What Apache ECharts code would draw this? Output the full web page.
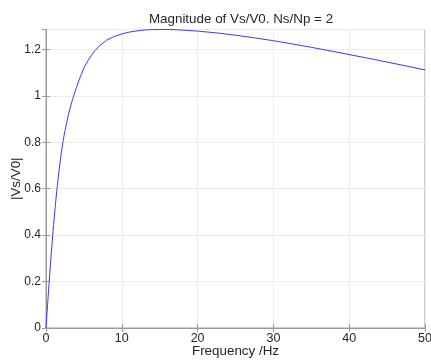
<!DOCTYPE html>
<html>
<head>
<meta charset="utf-8">
<script src="https://cdn.jsdelivr.net/npm/echarts@6/dist/echarts.min.js"></script>
<style>
html,body{margin:0;padding:0;background:#fff;}
#c{width:431px;height:363px;}
</style>
</head>
<body>
<div id="c"></div>
<script>
var titleText = 'Magnitude of Vs/V0. Ns/Np = 2';
var xName = 'Frequency /Hz';
var yName = '|Vs/V0|';
var freq = [0, 0.25, 0.5, 0.75, 1.0, 1.25, 1.5, 1.75, 2.0, 2.25, 2.5, 3.0, 3.5, 4.0, 4.5, 5.0, 5.5, 6.0, 6.5, 7.0, 8, 9, 10, 11, 12, 13, 14, 15, 16, 17, 18, 20, 22.5, 25, 27.5, 30, 32.5, 35, 37.5, 40, 42.5, 45, 47.5, 50];
var mag  = [0, 0.12, 0.235, 0.345, 0.445, 0.535, 0.615, 0.685, 0.75, 0.805, 0.85, 0.925, 0.985, 1.035, 1.08, 1.12, 1.15, 1.175, 1.196, 1.214, 1.24, 1.256, 1.267, 1.275, 1.28, 1.284, 1.2855, 1.286, 1.286, 1.285, 1.2835, 1.279, 1.2714, 1.2615, 1.2501, 1.2378, 1.2238, 1.2093, 1.194, 1.178, 1.1622, 1.1457, 1.129, 1.112];
var xTicks = [0, 10, 20, 30, 40, 50];
var yTicks = [0, 0.2, 0.4, 0.6, 0.8, 1, 1.2];

var pts = freq.map(function (f, i) { return [f, mag[i]]; });
var font = 'Liberation Sans, Arial, sans-serif';
var axisCol = '#999999';
var txtCol = '#262626';

function yFmt(v) {
  for (var i = 0; i < yTicks.length; i++) if (Math.abs(v - yTicks[i]) < 1e-6) return String(yTicks[i]);
  return '';
}
function xFmt(v) {
  for (var i = 0; i < xTicks.length; i++) if (Math.abs(v - xTicks[i]) < 1e-6) return String(xTicks[i]);
  return '';
}

var chart = echarts.init(document.getElementById('c'), null, {renderer: 'canvas'});
chart.setOption({
  animation: false,
  backgroundColor: '#fff',
  title: {
    text: titleText, left: 236, top: 8, textAlign: 'center',
    textStyle: {fontFamily: font, fontSize: 13.4, fontWeight: 'normal', color: txtCol}
  },
  grid: {left: 46, right: 6, top: 29.5, bottom: 35, containLabel: false, outerBoundsMode: 'none',
    show: true, borderColor: axisCol, borderWidth: 1, backgroundColor: '#fff'},
  xAxis: [{
    type: 'value', min: 0, max: 50, interval: 10,
    name: xName, nameLocation: 'middle', nameGap: 17, nameMoveOverlap: false,
    nameTextStyle: {fontFamily: font, fontSize: 13.4, color: txtCol},
    axisLine: {show: true, lineStyle: {color: axisCol}},
    axisTick: {show: true, inside: true, length: 4, lineStyle: {color: axisCol}},
    axisLabel: {fontFamily: font, fontSize: 12.5, color: txtCol, margin: 4, formatter: xFmt},
    splitLine: {show: true, lineStyle: {color: '#ececec', width: 1}}
  }, {
    type: 'value', min: 0, max: 50, interval: 10, position: 'top',
    axisLine: {show: true, lineStyle: {color: axisCol}},
    axisTick: {show: true, inside: true, length: 4, lineStyle: {color: axisCol}},
    axisLabel: {show: false}, splitLine: {show: false}
  }],
  yAxis: [{
    type: 'value', min: 0, max: 1.286, interval: 0.2,
    name: yName, nameLocation: 'middle', nameGap: 23, nameRotate: 90, nameMoveOverlap: false,
    nameTextStyle: {fontFamily: font, fontSize: 13.4, color: txtCol},
    axisLine: {show: true, lineStyle: {color: axisCol}},
    axisTick: {show: true, inside: true, length: 4, lineStyle: {color: axisCol}},
    axisLabel: {fontFamily: font, fontSize: 12, color: txtCol, margin: 5, formatter: yFmt, showMaxLabel: false},
    splitLine: {show: true, lineStyle: {color: '#ececec', width: 1}}
  }, {
    type: 'value', min: 0, max: 1.286, interval: 0.2, position: 'right',
    axisLine: {show: true, lineStyle: {color: axisCol}},
    axisTick: {show: true, inside: true, length: 4, lineStyle: {color: axisCol}},
    axisLabel: {show: false}, splitLine: {show: false}
  }],
  series: [{
    type: 'line', data: pts, xAxisIndex: 0, yAxisIndex: 0,
    showSymbol: false, smooth: false,
    lineStyle: {color: '#3a3aff', width: 1},
    clip: true
  }]
});
</script>
</body>
</html>
